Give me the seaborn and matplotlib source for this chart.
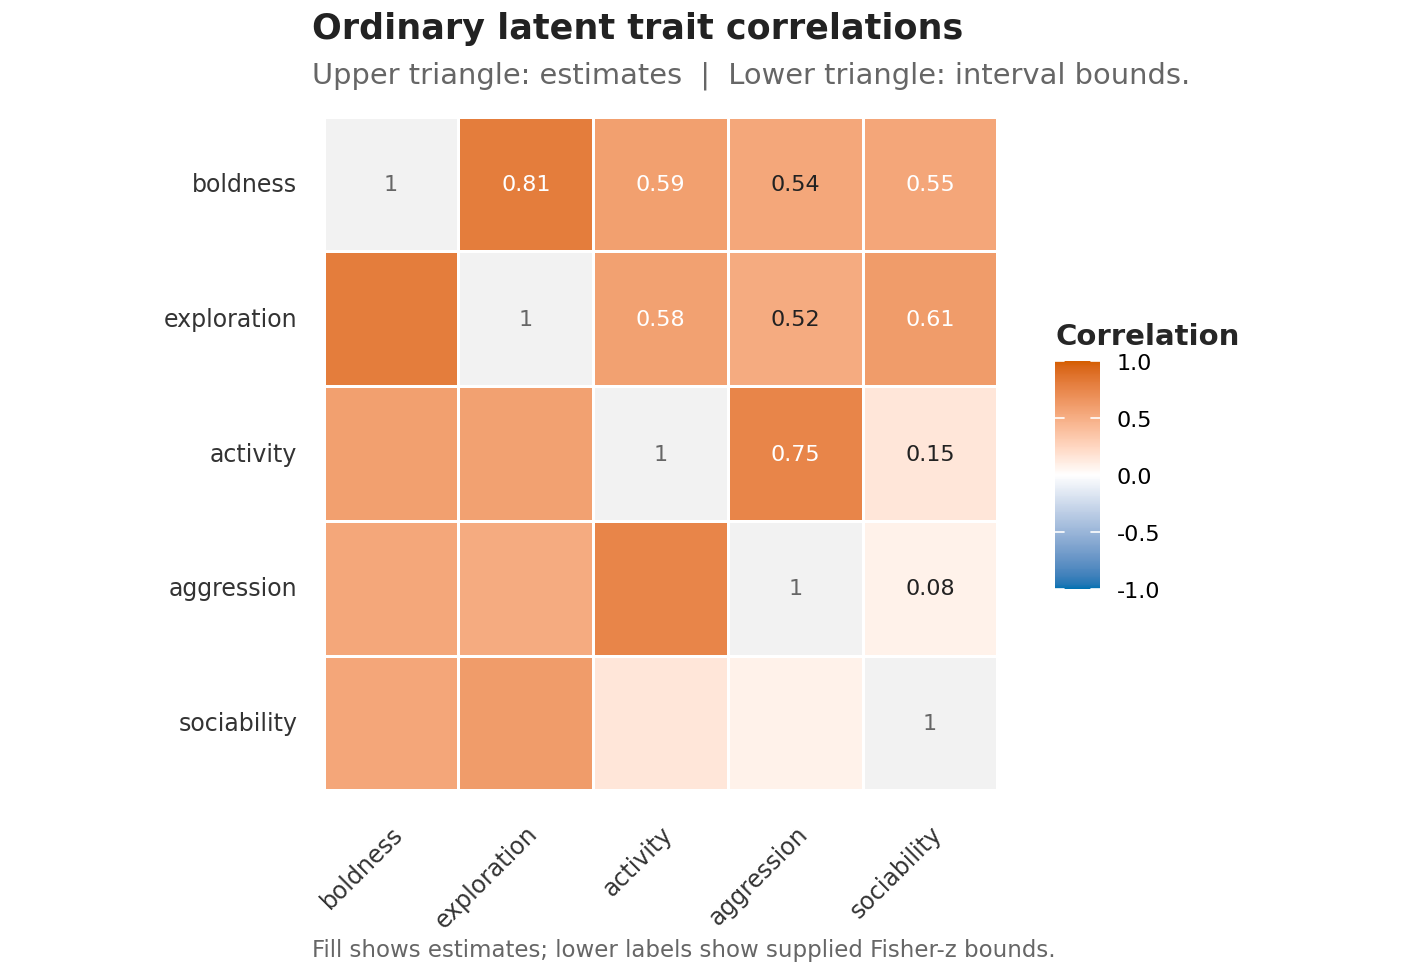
import numpy as np
import pandas as pd
import matplotlib
matplotlib.use('Agg')
import matplotlib.pyplot as plt
from matplotlib.colors import ListedColormap, to_rgb
import seaborn as sns

# Trait names and the estimated latent correlations (upper triangle, row-wise)
traits = ['boldness', 'exploration', 'activity', 'aggression', 'sociability']
pairs = [('boldness', 'exploration'), ('boldness', 'activity'), ('boldness', 'aggression'),
         ('boldness', 'sociability'), ('exploration', 'activity'), ('exploration', 'aggression'),
         ('exploration', 'sociability'), ('activity', 'aggression'), ('activity', 'sociability'),
         ('aggression', 'sociability')]
estimates = [0.81, 0.59, 0.54, 0.55, 0.58, 0.52, 0.61, 0.75, 0.15, 0.08]
cbar_ticks = [-1.0, -0.5, 0.0, 0.5, 1.0]

sns.set_theme(style='white')
plt.rcParams['font.family'] = ['DejaVu Sans']


# diverging gradient interpolated in Lab space (low - white - high)
def to_lab(c):
    rgb = np.array(to_rgb(c))
    lin = np.where(rgb <= 0.04045, rgb / 12.92, ((rgb + 0.055) / 1.055) ** 2.4)
    m = np.array([[0.4124, 0.3576, 0.1805], [0.2126, 0.7152, 0.0722], [0.0193, 0.1192, 0.9505]])
    xyz = m @ lin / np.array([0.95047, 1.0, 1.08883])
    f = np.where(xyz > 0.008856, np.cbrt(xyz), 7.787 * xyz + 16 / 116)
    return np.array([116 * f[1] - 16, 500 * (f[0] - f[1]), 200 * (f[1] - f[2])])


def from_lab(lab):
    fy = (lab[0] + 16) / 116
    f = np.array([fy + lab[1] / 500, fy, fy - lab[2] / 200])
    xyz = np.where(f ** 3 > 0.008856, f ** 3, (f - 16 / 116) / 7.787) * np.array([0.95047, 1.0, 1.08883])
    minv = np.array([[3.2406, -1.5372, -0.4986], [-0.9689, 1.8758, 0.0415], [0.0557, -0.2040, 1.0570]])
    lin = minv @ xyz
    rgb = np.where(lin <= 0.0031308, 12.92 * lin, 1.055 * np.clip(lin, 0, None) ** (1 / 2.4) - 0.055)
    return np.clip(rgb, 0, 1)


low, mid, high = to_lab('#0072B2'), to_lab('#FFFFFF'), to_lab('#D55E00')
cols = []
for v in np.linspace(-1, 1, 256):
    end = high if v > 0 else low
    cols.append(from_lab(mid + abs(v) * (end - mid)))
cmap = ListedColormap(cols)

# Build the symmetric matrix
n = len(traits)
corr = pd.DataFrame(np.eye(n), index=traits, columns=traits)
for (a, b), r in zip(pairs, estimates):
    corr.loc[a, b] = r
    corr.loc[b, a] = r

# upper labels only, diagonal separately
labels = np.full((n, n), '', dtype=object)
for i in range(n):
    for j in range(i + 1, n):
        labels[i, j] = f'{corr.iloc[i, j]:g}'
diag_labels = np.where(np.eye(n) == 1, '1', '')

fig = plt.figure(figsize=(14.2, 9.79), dpi=100)
ax = fig.add_axes([0.2279, 0.1916, 0.4745, 0.6882])
cax = fig.add_axes([0.743, 0.3973, 0.0317, 0.2329])

offdiag_mask = np.eye(n, dtype=bool)
sns.heatmap(corr, mask=offdiag_mask, cmap=cmap, vmin=-1, vmax=1, ax=ax, cbar_ax=cax,
            annot=labels, fmt='', linewidths=2, linecolor='white',
            annot_kws={'fontsize': 16}, cbar_kws={'ticks': cbar_ticks})
sns.heatmap(corr, mask=~offdiag_mask, cmap=ListedColormap(['#F2F2F2']), cbar=False, ax=ax,
            annot=diag_labels, fmt='', linewidths=2, linecolor='white',
            annot_kws={'fontsize': 16, 'color': '#666666'})

# text colours for the estimate labels
for t in ax.texts:
    s = t.get_text()
    if s == '1' or s == '':
        t.set_color('#666666')
        continue
    t.set_color('white' if float(s) >= 0.545 else '#222222')

ax.set_xlabel('')
ax.set_ylabel('')
ax.tick_params(axis='both', length=0, labelsize=17, colors='#333333')
ax.tick_params(axis='x', pad=22)
ax.tick_params(axis='y', pad=19)
plt.setp(ax.get_yticklabels(), rotation=0)
plt.setp(ax.get_xticklabels(), rotation=45, ha='right', va='top', rotation_mode='anchor')

# colorbar styling
cbar = ax.collections[0].colorbar
cbar.outline.set_visible(False)
cbar.ax.tick_params(length=0, labelsize=16, labelcolor='black', pad=12)
cbar.ax.set_yticklabels([f'{v:.1f}' for v in cbar_ticks])
for v in cbar_ticks:
    cbar.ax.plot([0, 0.2], [v, v], color='white', lw=1.2, transform=cbar.ax.get_yaxis_transform(), clip_on=False)
    cbar.ax.plot([0.8, 1], [v, v], color='white', lw=1.2, transform=cbar.ax.get_yaxis_transform(), clip_on=False)
fig.text(0.743, 1 - 345 / 979, 'Correlation', fontsize=21, fontweight='bold', ha='left', va='baseline')

fig.text(0.2197, 1 - 12 / 979, 'Ordinary latent trait correlations', fontsize=25.2, fontweight='bold',
         color='#222222', ha='left', va='top')
fig.text(0.2197, 1 - 84 / 979, 'Upper triangle: estimates  |  Lower triangle: interval bounds.',
         fontsize=20.8, color='#666666', ha='left', va='baseline')
fig.text(0.2197, 1 - 951 / 979, 'Fill shows estimates; lower labels show supplied Fisher-z bounds.',
         fontsize=16.5, color='#666666', ha='left', va='center')

fig.savefig('out.png', dpi=100)
